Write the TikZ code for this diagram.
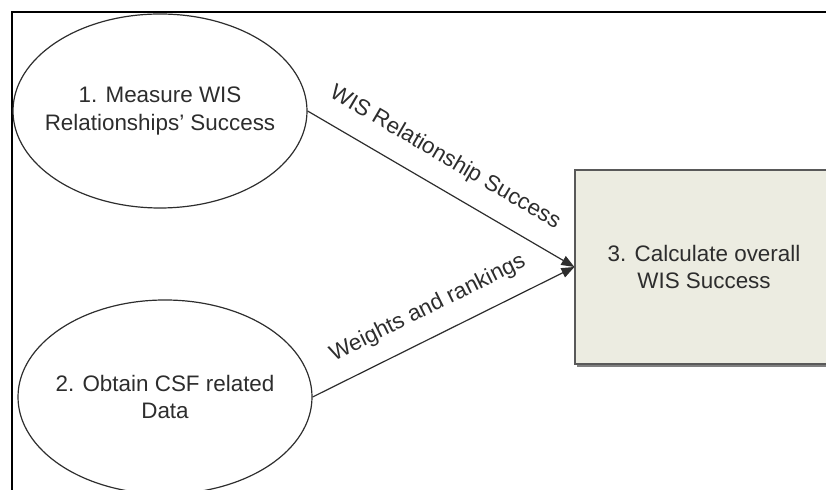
\documentclass[tikz,border=0pt]{standalone}
\usepackage{fontspec}
\setmainfont{Liberation Sans}
\usetikzlibrary{shapes.geometric,arrows.meta,shadows}

\definecolor{boxfill}{RGB}{236,236,225}
\definecolor{inkgray}{RGB}{45,45,45}

\begin{document}
\begin{tikzpicture}[x=1bp,y=1bp,
  txt/.style={text=inkgray, font=\fontsize{22.5}{28}\selectfont},
  proc/.style={ellipse, draw=inkgray, line width=1.2bp, minimum width=294bp,
    minimum height=194bp, inner xsep=-20bp, inner ysep=0pt, align=center, txt},
  calcbox/.style={rectangle, draw=black!65, line width=1.2bp, fill=boxfill,
    minimum width=258bp, minimum height=194bp, align=center, txt,
    drop shadow={shadow xshift=1.5bp, shadow yshift=-3bp, fill=black!50, opacity=1}},
  flow/.style={draw=inkgray, line width=1.2bp, -{Triangle[length=13bp,width=10bp]}},
  flowlabel/.style={sloped, inner sep=0pt, txt}]

\useasboundingbox (0,0) rectangle (826,490);
\clip (0,0) rectangle (826,490);

% outer frame (open to the right and bottom)
\draw[black, line width=2.5bp] (12,-10) -- (12,478) -- (840,478);

% processes
\node[proc] (measure) at (160,379) {1. Measure WIS\\Relationships' Success};
\node[proc] (obtain) at (165,93) {2. Obtain CSF related\\Data};
\node[calcbox] (calc) at (704,223) {3. Calculate overall\\WIS Success};

% data flows
\draw[flow] (measure.east) -- (calc.west)
  node[flowlabel, pos=0.46, above=18bp] {WIS Relationship Success};
\draw[flow] (obtain.east) -- (calc.west)
  node[flowlabel, pos=0.488, above=17bp] {Weights and rankings};
\end{tikzpicture}
\end{document}
